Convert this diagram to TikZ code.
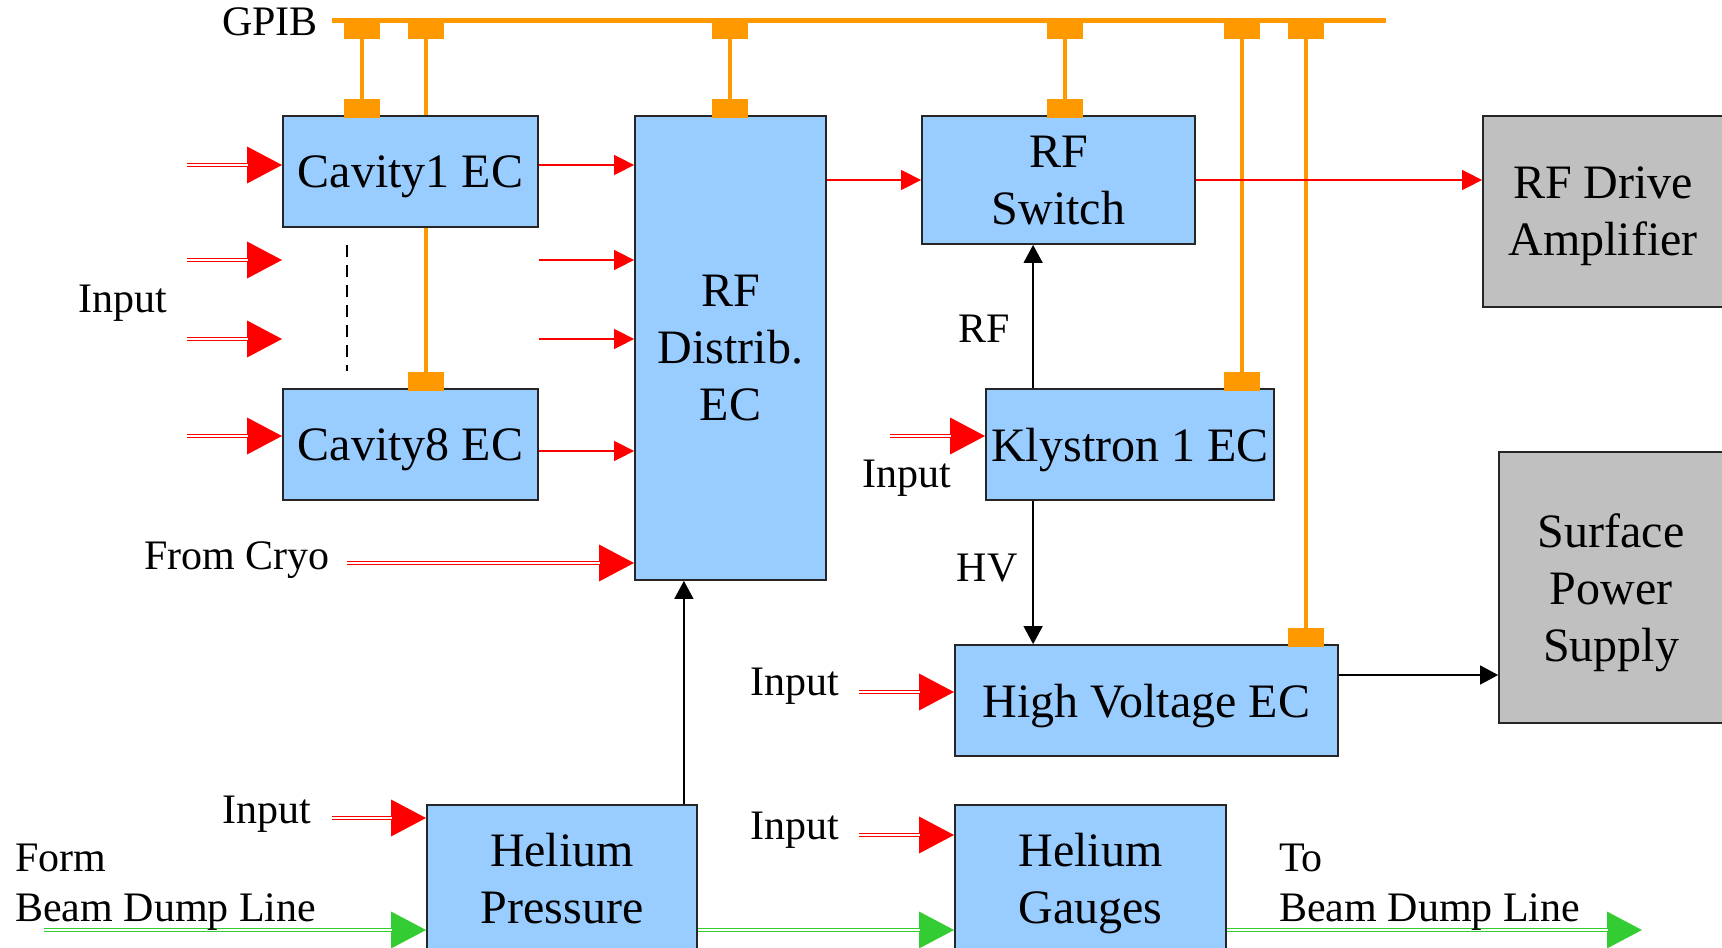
\documentclass[tikz,border=0pt]{standalone}
\usepackage{fontspec}
\setmainfont{Liberation Serif}
\usepackage{tikz}
\usetikzlibrary{arrows.meta,positioning,calc,backgrounds}
\definecolor{boxblue}{HTML}{99CCFF}
\definecolor{boxgrey}{HTML}{C0C0C0}
\definecolor{gpiborange}{HTML}{FF9900}
\definecolor{pipegreen}{HTML}{33CC33}

\begin{document}
\begin{tikzpicture}[x=1pt,y=-1pt,
  ec/.style={draw=black!85,line width=1.8pt,fill=boxblue,inner sep=0pt,align=center,text depth=0pt,font=\fontsize{48}{57}\selectfont},
  ext/.style={ec,fill=boxgrey},
  lbl/.style={inner sep=0pt,align=left,text depth=0pt,font=\fontsize{42}{50}\selectfont},
  tap/.style={fill=gpiborange,minimum width=36pt,minimum height=17pt,inner sep=0pt,anchor=north},
  port/.style={fill=gpiborange,minimum width=36pt,minimum height=19pt,inner sep=0pt,anchor=south},
  bus/.style={gpiborange,line width=4pt},
  sig/.style={red,line width=1.5pt,-{Triangle[length=20pt,width=20pt]}},
  ctl/.style={black,line width=1.5pt,-{Triangle[length=18pt,width=19pt]}},
  feed/.style={#1,line width=3.6pt,-{Triangle[length=35pt,width=36pt]},
    postaction={draw=white,line width=1.2pt,shorten >=34pt,-}},
  feed/.default=red]
\useasboundingbox (0,0) rectangle (1722,948);

% electronics crates
\node[ec,minimum width=255pt,minimum height=111pt] (cav1) at (410.5,171.5) {Cavity1 EC};
\node[ec,minimum width=255pt,minimum height=111pt] (cav8) at (410.5,444.5) {Cavity8 EC};
\node[ec,minimum width=191pt,minimum height=464pt] (dist) at (730.5,348) {RF\\Distrib.\\EC};
\node[ec,minimum width=273pt,minimum height=128pt] (sw) at (1058.5,180) {RF\\Switch};
\node[ext,minimum width=240pt,minimum height=191pt] (drv) at (1603,211.5) {RF Drive\\Amplifier};
\node[ec,minimum width=288pt,minimum height=111pt] (kly) at (1130,444.5) {Klystron 1 EC};
\node[ec,minimum width=383pt,minimum height=111pt] (hv) at (1146.5,700.5) {High Voltage EC};
\node[ext,minimum width=224pt,minimum height=271pt] (sps) at (1611,587.5) {Surface\\Power\\Supply};
\node[ec,minimum width=270pt,minimum height=146pt] (hep) at (562,878) {Helium\\Pressure};
\node[ec,minimum width=271pt,minimum height=146pt] (heg) at (1090.5,878) {Helium\\Gauges};

% GPIB bus
\coordinate (busL) at (332,20);
\coordinate (busR) at (1386,20);
\draw[bus,line width=5pt] (busL) -- (busR);
\node[lbl,anchor=east] (gpib) at (318,22) {GPIB};
\foreach \x/\n in {362/a,426/b,730/c,1065/d,1242/e,1306/f}
  \node[tap] (tap\n) at (\x,22) {};
\node[port] (pcav1) at (362,118) {};
\node[port] (pcav8) at (426,391) {};
\node[port] (pdist) at (730,118) {};
\node[port] (psw) at (1065,118) {};
\node[port] (pkly) at (1242,391) {};
\node[port] (phv) at (1306,647) {};
\begin{scope}[on background layer]
\draw[bus] (tapa) -- (pcav1);
\draw[bus] (tapb) -- (pcav8);
\draw[bus] (tapc) -- (pdist);
\draw[bus] (tapd) -- (psw);
\draw[bus] (tape) -- (pkly);
\draw[bus] (tapf) -- (phv);
\end{scope}

% cavity inputs
\coordinate (in1) at (187,165);
\coordinate (in2) at (187,260);
\coordinate (in3) at (187,339);
\coordinate (in4) at (187,436);
\draw[feed] (in1) -- (in1 -| cav1.west);
\draw[feed] (in2) -- (in2 -| cav1.west);
\draw[feed] (in3) -- (in3 -| cav1.west);
\draw[feed] (in4) -- (in4 -| cav8.west);
\node[lbl] (inlbl) at (123,299) {Input};
\coordinate (dots1) at (347,245);
\coordinate (dots2) at (347,371);
\draw[line width=2pt,dash pattern=on 12pt off 8pt] (dots1) -- (dots2);

% RF signals
\draw[sig] (in1 -| cav1.east) -- (in1 -| dist.west);
\draw[sig] (in2 -| cav1.east) -- (in2 -| dist.west);
\draw[sig] (in3 -| cav1.east) -- (in3 -| dist.west);
\draw[sig] ([yshift=-6.5pt]cav8.east) -- ([yshift=-6.5pt]cav8.east -| dist.west);
\draw[sig] (dist.east |- sw.west) -- (sw.west);
\draw[sig] (sw.east) -- (sw.east -| drv.west);

\coordinate (cryo) at (347,563);
\draw[feed] (cryo) -- (cryo -| dist.west);
\node[lbl,anchor=east] (cryolbl) at (330,556) {From Cryo};

% klystron and HV
\draw[ctl] ([xshift=48pt]kly.north west) -- ([xshift=48pt]kly.north west |- sw.south);
\node[lbl] (rflbl) at (984,329) {RF};
\draw[ctl] ([xshift=48pt]kly.south west) -- ([xshift=48pt]kly.south west |- hv.north);
\node[lbl] (hvlbl) at (987,568) {HV};
\draw[ctl] ([yshift=25.5pt]hv.east) -- ([yshift=25.5pt]hv.east -| sps.west);
\coordinate (klyin) at (890,436);
\draw[feed] (klyin) -- (klyin -| kly.west);
\node[lbl] (klyinlbl) at (907,474) {Input};
\coordinate (hvin) at (859,692);
\draw[feed] (hvin) -- (hvin -| hv.west);
\node[lbl] (hvinlbl) at (795,682) {Input};

% helium
\draw[ctl] ([xshift=-14pt]hep.north east) -- ([xshift=-14pt]hep.north east |- dist.south);
\coordinate (hepin) at (332,818);
\draw[feed] (hepin) -- (hepin -| hep.west);
\node[lbl] (hepinlbl) at (267,810) {Input};
\coordinate (hegin) at (859,835);
\draw[feed] (hegin) -- (hegin -| heg.west);
\node[lbl] (heginlbl) at (795,826) {Input};
\coordinate (dumpin) at (44,930);
\coordinate (dumpout) at (1642,930);
\draw[feed=pipegreen] (dumpin) -- (dumpin -| hep.west);
\draw[feed=pipegreen] (dumpin -| hep.east) -- (dumpin -| heg.west);
\draw[feed=pipegreen] (dumpin -| heg.east) -- (dumpout);
\node[lbl,anchor=west] (fromlbl) at (15,883) {Form\\Beam Dump Line};
\node[lbl,anchor=west] (tolbl) at (1279,883) {To\\Beam Dump Line};
\end{tikzpicture}
\end{document}
